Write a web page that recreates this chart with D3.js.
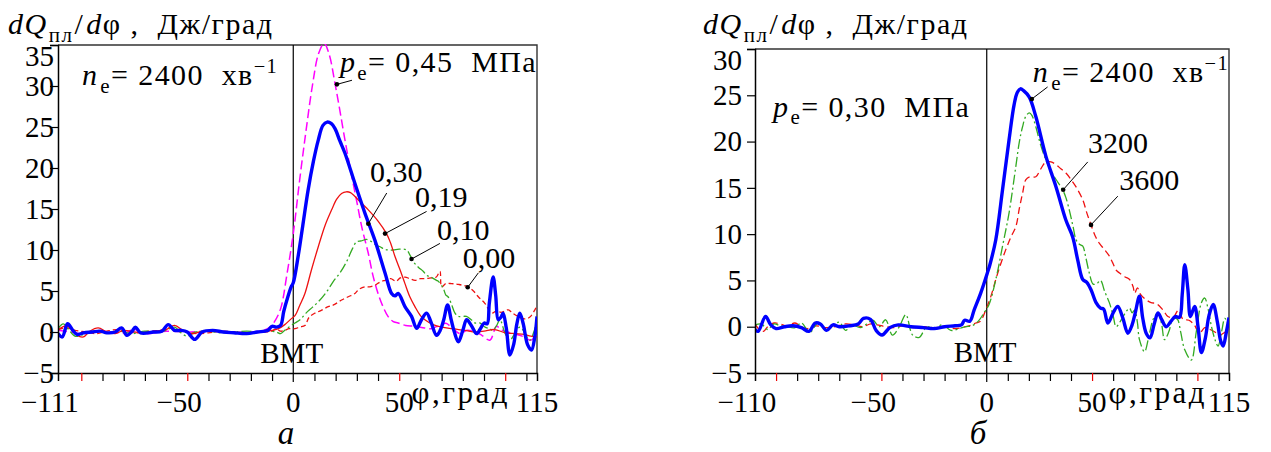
<!DOCTYPE html>
<html>
<head>
<meta charset="utf-8">
<script src="https://cdn.jsdelivr.net/npm/d3@7"></script>
<style>
body { margin: 0; background: #fff; }
</style>
</head>
<body>
<div id="chart-area"></div>
<script>
// ---- data: [angle (deg), dQ/dphi (J/deg)] ----

// panel a, n = 2400 1/min, various pe
var leftMagenta045 = [[-111,0.2],[-105,0.0],[-100,-0.2],[-90,0.1],[-80,-0.1],[-75,0.3],[-70,-0.2],[-60,0.1],[-50,0.0],[-40,0.1],[-30,0.0],[-20,0.0],[-14,0.2],[-11,0.6],[-9,1.2],[-6,2.8],[-3,7],[0,12],[3,18.5],[6,24.5],[9,30],[12,34],[14.6,35.2],[17,33.8],[19.7,30.3],[22,27],[24.4,23.4],[27,19.8],[29.9,16],[32.5,12.6],[35.4,9.6],[37.5,7.0],[40,4.7],[42.5,3.0],[44.7,1.9],[47,1.3],[49.5,1.1],[53,0.8],[57,0.7],[62,0.5],[65,0.4],[67.6,0.65],[70,0.9],[72,1.06],[75,0.5],[78.6,-0.2],[82,0.2],[86,0.0],[89,-0.4],[92.8,-1],[95.9,0.7],[98,0.3],[101,0.0],[104,-0.2],[108,-0.5],[112,-1.0],[114,-0.6]];

var leftBlue030 = [[-111,-0.2],[-109,-0.6],[-106.5,1.0],[-104,0.2],[-102,-0.3],[-99,-0.1],[-95,0.0],[-91,0.1],[-88,-0.1],[-84,0.0],[-81,0.5],[-78.5,-0.4],[-76,0.1],[-74.5,0.6],[-72,-0.1],[-66,0.0],[-62,0.1],[-59,0.9],[-56,0.2],[-53,0.2],[-50,0.0],[-46.5,-0.9],[-43,0.0],[-38,0.2],[-33,0.0],[-28,-0.1],[-22,-0.2],[-17,0.0],[-12,0.2],[-10,0.7],[-8,0.6],[-6,0.8],[-4.5,2.5],[-3,3.9],[-1,5.5],[0,6.0],[2.4,9.4],[4.5,13],[7,17.3],[9.5,20.8],[11.8,23.4],[14,25.2],[16,25.6],[18,25.4],[19.7,24.8],[22,23.3],[24.4,21.8],[29.1,18.1],[33.8,14.5],[38.5,11.2],[43.3,7.2],[46.4,4.7],[48,4.4],[49.5,4.7],[52.7,3.1],[55.8,1.9],[58.2,0.45],[60.5,1.5],[62.9,2.3],[65,1.2],[67.6,-0.4],[69.5,0.3],[71,1.5],[72.8,3.3],[74.5,1.5],[76,0.0],[77.9,-1.2],[80,0.2],[81.8,1.5],[84,0.8],[86.5,-0.2],[88.5,0.5],[90.1,1.1],[91.5,1.0],[92.5,3.5],[94.3,6.7],[95.5,4.5],[96.7,1.5],[98,1.8],[99,2.3],[100.5,0.5],[102.2,-2.8],[104,-1.5],[105.5,1.0],[106.9,2.3],[108.5,1.0],[110.5,-1.5],[112.4,-2.2],[114,-0.5],[115,1.9]];

var leftRed019 = [[-111,0.2],[-108,0.7],[-105,0.5],[-102,-0.4],[-99,-0.6],[-96,0.1],[-92,0.5],[-88,0.0],[-84,-0.2],[-80,0.2],[-75,0.0],[-70,-0.1],[-65,0.1],[-60,0.3],[-56,0.8],[-52,0.2],[-48,-0.2],[-44,0.0],[-38,0.1],[-30,0.0],[-22,-0.1],[-15,0.0],[-10,0.2],[-7,0.4],[-4,0.9],[-1,1.6],[0.8,2.0],[3,3.2],[5.5,4.7],[8.5,7.5],[11.8,10.4],[15,13],[18.1,14.9],[20.5,16.2],[22.8,16.9],[25,17.1],[27,17.0],[30.7,16.1],[35.4,14.9],[40.1,13.5],[44,12.0],[46,10.8],[48,9.2],[50.5,7.5],[52.7,5.9],[55,4.3],[57.4,3.1],[60,2.0],[62.1,1.5],[66,0.9],[70,0.6],[75,0.4],[81,0.2],[86,0.0],[90,0.1],[95,0.3],[100,-0.1],[105,-0.2],[109,-0.3],[112,-0.5],[115,-0.6]];

var leftGreen010 = [[-111,0.4],[-108.5,1.0],[-106,0.3],[-103,-0.5],[-100,-0.4],[-96,0.0],[-92,0.2],[-88,-0.1],[-82,0.1],[-76,-0.2],[-70,0.1],[-64,0.0],[-60,0.2],[-56,0.6],[-53,-0.1],[-50,-0.5],[-46,0.0],[-40,0.1],[-34,-0.1],[-28,0.0],[-22,0.1],[-16,0.0],[-12,0.1],[-8,0.0],[-6,-0.2],[-4,0.2],[-2,0.6],[0.8,1.1],[3.2,1.5],[6,2.3],[9,3.0],[12.6,3.9],[16,5.0],[19,6.2],[22,7.2],[25,8.5],[28,10.2],[29.9,11.0],[32,11.1],[34.6,11.3],[37,11.0],[39,10.6],[41,10.4],[43,10.1],[45,10.0],[47.2,10.0],[50,10.1],[53.5,10.0],[55,9.4],[56.6,8.6],[59,7.9],[61.3,7.4],[63,6.9],[65,6.7],[67.6,6.3],[68.4,6.2],[70.8,5.3],[72,4.5],[73,4.3],[74.5,3.5],[76.3,2.3],[78,1.9],[81.7,1.9],[84,1.5],[85.7,1.1],[88,1.1],[90.5,0.6],[92.8,0.4],[94,0.2],[96,0.8],[97.5,1.5],[100,-0.2],[102.2,-1.0],[104.5,-0.2],[106.9,0.6],[109,0.0],[111.6,-1.0],[113.5,0.0],[115,1.5]];

var leftRedDash000 = [[-111,0.3],[-107,0.5],[-103,0.2],[-98,0.0],[-93,-0.2],[-88,0.1],[-83,0.3],[-78,0.0],[-73,-0.1],[-68,0.1],[-63,0.2],[-58,0.5],[-55,0.3],[-50,0.0],[-45,-0.2],[-40,-0.1],[-34,0.1],[-28,0.0],[-20,-0.1],[-14,0.0],[-10,0.1],[-8,0.4],[-6,0.1],[-4,0.2],[-2,0.4],[0.8,0.4],[3,0.6],[5.5,0.8],[7.5,1.8],[10.2,2.3],[13,2.6],[16.5,3.1],[19,3.3],[22.8,3.9],[26,4.3],[29.1,4.7],[31,5.2],[33.8,5.5],[36,5.5],[38.5,5.7],[41,6.1],[43.3,6.3],[46,6.5],[48.5,6.2],[50.5,6.6],[52.7,6.7],[55,6.5],[57.5,6.3],[60,6.5],[62.1,6.5],[65,6.6],[67.5,6.7],[69.2,7.4],[70,5.5],[72,5.9],[74.7,5.9],[78,5.8],[82.3,5.5],[85,5.0],[87.3,4.3],[90.4,3.5],[93.6,2.3],[96,2.6],[98,2.4],[101.4,2.7],[103.5,2.3],[106.1,1.9],[109,1.6],[111.5,1.8],[114,2.7],[115,3.2]];

// panel b, pe = 0.30 MPa, various n
var rightBlue2400 = [[-110,-0.3],[-108.5,-0.5],[-105,1.1],[-102.5,0.2],[-100,-0.2],[-96,0.0],[-92,0.1],[-88,-0.1],[-84.4,-0.5],[-81.4,0.4],[-79,0.3],[-76,-0.4],[-73,0.2],[-70,0.0],[-65,0.1],[-61,0.3],[-58.5,0.9],[-55.2,0.8],[-52.5,-0.4],[-49.7,-0.9],[-46,-0.1],[-42,0.2],[-36,0.0],[-30,-0.1],[-25,-0.2],[-20,0.0],[-15,0.1],[-12,0.2],[-10.5,0.7],[-8,0.6],[-6,1.8],[-2.9,3.6],[0.3,5.8],[1.5,6.7],[4.3,9.4],[7.5,14.8],[10.6,20.2],[13,24.0],[14.5,25.3],[16,25.7],[17.5,25.5],[20.2,24.8],[23.3,22.7],[28.1,18.4],[32.9,15.1],[37.6,11.5],[40.8,9.7],[43.2,7.2],[45.6,5.1],[47.5,4.8],[49.5,4.0],[51.9,2.6],[54,2.0],[55.5,1.9],[57.5,0.4],[60,1.5],[62.2,2.2],[64.5,1.0],[67,-0.7],[69,0.2],[70.5,1.5],[72.5,3.3],[74,1.0],[75.7,-0.7],[77.5,-1.2],[79.5,0.3],[81.3,1.5],[83,0.8],[85.2,0.0],[87.5,0.6],[89.5,1.1],[91.5,1.0],[92.8,3.5],[94,6.7],[95.5,4.0],[96.7,1.1],[98.7,2.2],[100.3,0.0],[101.9,-2.8],[103.8,-1.2],[105.5,1.2],[107.5,2.4],[109.5,0.5],[111,-1.5],[112.2,-2.1],[113.8,-0.5],[115,1.0]];

var rightGreen3200 = [[-110,0.2],[-107,0.3],[-104,-0.3],[-101,0.3],[-98,0.1],[-95,0.0],[-91,-0.1],[-88,0.4],[-84,-0.6],[-80,0.4],[-76,-0.4],[-73,0.1],[-70,0.5],[-67,-0.4],[-64,0.2],[-60,-0.1],[-57,0.3],[-54,0.7],[-51,0.0],[-48,0.75],[-44.8,-0.9],[-41.5,0.0],[-38.4,1.3],[-35.2,-0.9],[-32,-1.15],[-28.5,0.0],[-25,-0.2],[-21,0.2],[-17,-0.4],[-13,-0.2],[-10,0.0],[-7,0.1],[-4,0.6],[-1,1.6],[1.1,2.4],[4.3,5.1],[7.5,8.7],[10.6,12.3],[13.8,17.3],[15.5,20.0],[17,21.6],[18.5,22.7],[20.2,23.1],[21.5,22.8],[23.3,21.6],[25.5,19.7],[28.1,18.0],[30.5,16.8],[32.9,15.9],[36,14.8],[37.5,14],[39.2,12.6],[41,10.8],[42.4,9.4],[44,8.9],[45.6,8.7],[47,7.5],[48.7,5.8],[50.5,4.6],[52.5,4.7],[54,5.0],[56,3.8],[58.2,2.6],[60,1.2],[61.4,0.0],[63.5,0.6],[65.5,1.4],[67.8,2.0],[69,1.5],[70.2,1.8],[71.5,0.5],[72.5,-1.4],[74.9,-2.7],[77,-1.0],[79,0.8],[81.3,1.5],[83,0.3],[84.4,-1.4],[86.5,-0.5],[88.5,0.9],[90.5,0.8],[92,-0.5],[94,-2.5],[97.1,-3.6],[99.5,-0.5],[101.9,2.6],[103.5,3.1],[105,2.0],[106.7,0.0],[108.5,-1.5],[109.8,-2.1],[111.5,-0.5],[113,0.9],[114,0.6],[115,0.0]];

var rightRed3600 = [[-110,0.3],[-108,-0.3],[-106,-0.5],[-104,0.0],[-101,0.4],[-98,0.3],[-95,0.1],[-91,0.4],[-88,0.0],[-85,-0.2],[-81,0.1],[-77,-0.1],[-72,0.0],[-67,0.3],[-63,0.2],[-59,0.0],[-55,0.3],[-52,0.2],[-48,0.0],[-44,-0.1],[-40,0.1],[-35,-0.1],[-30,0.0],[-25,-0.1],[-20,0.0],[-15,-0.2],[-10,0.0],[-7,0.2],[-5.2,0.4],[-3,0.6],[-0.5,1.8],[2,3.3],[4.3,5.1],[6.5,6.7],[9,8.3],[11.5,9.7],[13.8,10.8],[15.5,12.8],[17,14.4],[18.6,15.9],[20.5,16.2],[23.3,16.2],[25.5,17.0],[28.1,17.8],[30.5,17.8],[32.9,17.5],[35,17.1],[37.6,16.6],[40,15.9],[42.4,15.1],[45.6,13.7],[47.5,12.3],[49.5,11.0],[51.5,9.8],[53.5,9.0],[56,8.3],[58,7.7],[59.8,6.9],[61.5,6.1],[63,5.8],[65.5,5.4],[67.8,5.1],[69.5,4.3],[70.2,3.6],[71.5,4.2],[73,3.5],[75.7,2.9],[78,2.6],[80.5,2.5],[83.7,1.8],[86,1.1],[88.5,1.0],[91,1.8],[93.2,0.8],[96,0.7],[98.5,0.2],[101,-0.7],[103.5,-0.1],[106,-0.3],[108.5,-0.6],[110.6,-0.9],[113,-0.6],[115,-0.3]];

// ticks
var leftYTicks = [-5, 0, 5, 10, 15, 20, 25, 30, 35];
var rightYTicks = [-5, 0, 5, 10, 15, 20, 25, 30];
var leftXLabels = [-111, -50, 0, 50, 115];
var rightXLabels = [-110, -50, 0, 50, 115];
var minorXTicks = [-100, -90, -80, -70, -60, -50, -40, -30, -20, -10, 10, 20, 30, 40, 50, 60, 70, 80, 90, 100, 110];
var redXTicks = [-100, -50, 50, 100];

var FONT = "'Liberation Serif'";
var FS = 29;      // tick labels
var NS = 30;      // notes and titles

var svg = d3.select("#chart-area")
    .append("svg")
        .attr("width", 1271)
        .attr("height", 452);

function minusSign(v) { return v < 0 ? "\u2212" + (-v) : "" + v; }

// writes a text made of styled pieces (italic / subscript / superscript)
function richText(sel, parts, size, spacing) {
    var shift = 0;
    sel.style("font-family", FONT).style("letter-spacing", (spacing || 0) + "px").style("white-space", "pre");
    parts.forEach(function(p){
        var ts = sel.append("tspan").text(p.t);
        var target = 0, fs = size;
        if (p.sub) { target = size * 0.25; fs = size * 0.7; }
        if (p.sup) { target = -size * 0.42; fs = size * 0.68; }
        ts.style("font-size", fs + "px").attr("dy", target - shift);
        if (p.dx) ts.attr("dx", p.dx);
        if (p.it) ts.style("font-style", "italic");
        shift = target;
    });
}

function drawPanel(p) {
    var x = d3.scaleLinear().domain(p.xDomain).range([p.left, p.right]);
    var y = d3.scaleLinear().domain(p.yDomain).range([p.bottom, p.top]);

    var g = svg.append("g");

    var clipId = "clip" + p.id;
    svg.append("clipPath").attr("id", clipId)
        .append("rect")
        .attr("x", x.range()[0]).attr("y", y.range()[1] - 1)
        .attr("width", x.range()[1] - x.range()[0])
        .attr("height", y.range()[0] - y.range()[1] + 1);

    // frame (top + right)
    g.append("path")
        .attr("d", "M" + x.range()[0] + "," + y.range()[1] + "H" + x.range()[1] + "V" + y.range()[0])
        .attr("fill", "none").attr("stroke", "#333").attr("stroke-width", 1.4);

    // TDC line
    g.append("line")
        .attr("x1", x(0)).attr("x2", x(0))
        .attr("y1", y.range()[1]).attr("y2", y.range()[0] + 9)
        .attr("stroke", "#000").attr("stroke-width", 1.2);

    // curves
    var line = d3.line()
        .x(function(d){ return x(d[0]); })
        .y(function(d){ return y(d[1]); })
        .curve(d3.curveCatmullRom.alpha(0.5));

    var cg = g.append("g").attr("clip-path", "url(#" + clipId + ")");
    p.series.forEach(function(s){
        cg.append("path")
            .datum(s.data)
            .attr("d", line)
            .attr("fill", "none")
            .attr("stroke", s.color)
            .attr("stroke-width", s.width)
            .attr("stroke-dasharray", s.dash || null)
            .attr("stroke-linejoin", "round");
    });

    // Y axis
    var yAxis = g.append("g")
        .attr("transform", "translate(" + x.range()[0] + ",0)")
        .call(d3.axisLeft(y).tickValues(p.yTicks).tickSize(8).tickPadding(p.yPad).tickFormat(minusSign));
    yAxis.attr("font-family", null).attr("font-size", null);
    yAxis.select(".domain").attr("stroke", "#000").attr("stroke-width", 1.5);
    yAxis.selectAll(".tick line").attr("stroke", "#000").attr("stroke-width", 1.2);
    yAxis.selectAll("text")
        .style("font-family", FONT)
        .style("font-size", FS + "px")
        .attr("fill", "#000")
        .attr("dy", function(d){ return d === p.yDomain[1] ? "0.72em" : "0.32em"; });

    // X axis, minor ticks
    var xAxis = g.append("g")
        .attr("transform", "translate(0," + y.range()[0] + ")")
        .call(d3.axisBottom(x).tickValues(minorXTicks).tickSize(8).tickFormat(""));
    xAxis.select(".domain").attr("stroke", "#000").attr("stroke-width", 1.5);
    xAxis.selectAll(".tick line")
        .attr("stroke", function(d){ return redXTicks.indexOf(d) >= 0 ? "#e00" : "#000"; })
        .attr("stroke-width", 1.2);

    // X labels: digits centred on the tick, minus hanging to the left
    p.xLabels.forEach(function(v){
        var t = g.append("text")
            .attr("y", y.range()[0] + 39)
            .style("font-family", FONT).style("font-size", FS + "px")
            .text(Math.abs(v));
        var w = t.node().getComputedTextLength();
        t.attr("text-anchor", "end").attr("x", x(v) + w / 2).text(minusSign(v));
    });

    // axis name for phi
    g.append("text")
        .attr("x", x.range()[1] - p.phiOff).attr("y", y.range()[0] + 30)
        .attr("text-anchor", "end")
        .style("font-family", FONT)
        .style("font-size", "31px").style("letter-spacing", "2.5px")
        .text("\u03c6,\u0433\u0440\u0430\u0434");

    // y title
    richText(g.append("text").attr("x", p.titleX).attr("y", 34),
        [{t:"d", it:1}, {t:"Q", it:1}, {t:"\u043f\u043b", sub:1, dx:1}, {t:"/", dx:1}, {t:"d", it:1, dx:2}, {t:"\u03c6"}, {t:" ,  \u0414\u0436/\u0433\u0440\u0430\u0434"}], NS, 1.5);

    // TDC label
    g.append("text")
        .attr("x", x(0) - 33).attr("y", y(-3.8))
        .style("font-family", FONT)
        .style("font-size", "29px")
        .text("\u0412\u041c\u0422");

    // annotations
    p.notes.forEach(function(n){
        richText(g.append("text").attr("x", x(n.at[0])).attr("y", y(n.at[1])), n.parts, NS, n.ls);
        if (n.lead) {
            g.append("line")
                .attr("x1", x(n.lead[0])).attr("y1", y(n.lead[1]))
                .attr("x2", x(n.dot[0])).attr("y2", y(n.dot[1]))
                .attr("stroke", "#000").attr("stroke-width", 1);
            g.append("circle")
                .attr("cx", x(n.dot[0])).attr("cy", y(n.dot[1]))
                .attr("r", 2.3).attr("fill", "#000");
        }
    });

    // panel letter
    g.append("text")
        .attr("x", p.letterX).attr("y", 444)
        .attr("text-anchor", "middle")
        .style("font-family", FONT)
        .style("font-size", "33px").style("font-style", "italic")
        .text(p.letter);
}

var BLUE = "#0000ff", RED = "#ee1111", GREEN = "#33aa22", MAGENTA = "#ff00ff";

drawPanel({
    id: "a", left: 58, right: 537, top: 45, bottom: 373,
    xDomain: [-111, 115], yDomain: [-5, 35],
    yTicks: leftYTicks, yPad: -4, xLabels: leftXLabels,
    phiOff: 27, titleX: 8, letter: "\u0430", letterX: 286,
    series: [
        {data: leftMagenta045, color: MAGENTA, width: 1.5, dash: "9,4"},
        {data: leftRedDash000, color: RED, width: 1.3, dash: "5,3"},
        {data: leftGreen010, color: GREEN, width: 1.3, dash: "10,3,2,3"},
        {data: leftRed019, color: RED, width: 1.3},
        {data: leftBlue030, color: BLUE, width: 3.4}
    ],
    notes: [
        {at: [-99.7, 30.1], ls: 1.4, parts: [{t:"n", it:1}, {t:"e", sub:1, dx:2}, {t:"= 2400  \u0445\u0432"}, {t:"\u22121", sup:1}]},
        {at: [22, 31.7], ls: 1.4, parts: [{t:"p", it:1}, {t:"e", sub:1, dx:1}, {t:"= 0,45  \u041c\u041f\u0430"}], lead: [27.7, 30.7], dot: [20.6, 30.2]},
        {at: [36.2, 18.3], parts: [{t:"0,30"}], lead: [44.1, 16.95], dot: [35.4, 13.2]},
        {at: [57.4, 15.2], parts: [{t:"0,19"}], lead: [62.9, 14.7], dot: [43.3, 12.0]},
        {at: [67.8, 11.2], parts: [{t:"0,10"}], lead: [69.2, 10.8], dot: [55.8, 8.9]},
        {at: [80, 7.8], parts: [{t:"0,00"}], lead: [87.3, 7.2], dot: [82.3, 5.45]}
    ]
});

drawPanel({
    id: "b", left: 755, right: 1229, top: 49, bottom: 373,
    xDomain: [-110, 115], yDomain: [-5, 30],
    yTicks: rightYTicks, yPad: 5, xLabels: rightXLabels,
    phiOff: 22, titleX: 703, letter: "\u0431", letterX: 978,
    series: [
        {data: rightRed3600, color: RED, width: 1.3, dash: "7,4"},
        {data: rightGreen3200, color: GREEN, width: 1.3, dash: "10,3,2,3"},
        {data: rightBlue2400, color: BLUE, width: 3.4}
    ],
    notes: [
        {at: [-101.4, 22.7], ls: 1.4, parts: [{t:"p", it:1}, {t:"e", sub:1, dx:1}, {t:"= 0,30  \u041c\u041f\u0430"}]},
        {at: [21.9, 26.4], ls: 1.4, parts: [{t:"n", it:1}, {t:"e", sub:1, dx:2}, {t:"= 2400  \u0445\u0432"}, {t:"\u22121", sup:1}], lead: [28.9, 25.9], dot: [21.4, 24.6]},
        {at: [48.1, 18.8], parts: [{t:"3200"}], lead: [47.95, 17.8], dot: [36.3, 14.8]},
        {at: [62.9, 14.8], parts: [{t:"3600"}], lead: [62.2, 14.1], dot: [49.5, 11.0]}
    ]
});
</script>
</body>
</html>
